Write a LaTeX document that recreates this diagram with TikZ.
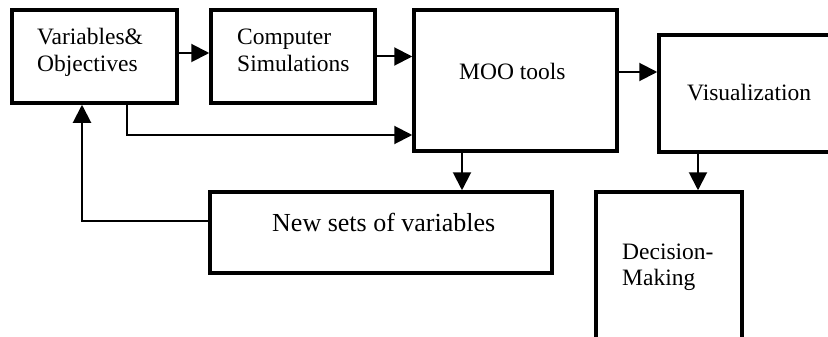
\documentclass[tikz,border=0pt]{standalone}
\usepackage{fontspec}
\setmainfont{Liberation Serif}
\usetikzlibrary{arrows.meta}
\tikzset{
  block/.style={draw=black, line width=3.5pt, fill=white, inner sep=0pt},
  flow/.style={draw=black, line width=2pt, -{Triangle[length=18pt,width=18pt]}},
  lbl/.style={anchor=base west, inner sep=0pt, font=\fontsize{23.5}{27}\selectfont},
  biglbl/.style={anchor=base west, inner sep=0pt, font=\fontsize{26}{30}\selectfont}
}
\begin{document}
\begin{tikzpicture}[x=1pt, y=-1pt]
\useasboundingbox (0,0) rectangle (828,337);
\clip (0,0) rectangle (828,337);

% boxes
\node[block, minimum width=165pt, minimum height=93pt]  (vars) at (94.5,56.5) {};
\node[block, minimum width=164pt, minimum height=93pt]  (sim)  at (293,56.5) {};
\node[block, minimum width=203pt, minimum height=141pt] (moo)  at (515.5,80.5) {};
\node[block, minimum width=220pt, minimum height=117pt] (vis)  at (769,93.5) {};
\node[block, minimum width=342pt, minimum height=81pt]  (news) at (381,232.5) {};
\node[block, minimum width=146pt, minimum height=180pt] (dec)  at (669,282) {};

% labels
\node[lbl] (varsA) at (37,45) {Variables\&};
\node[lbl] (varsB) at (37,72) {Objectives};
\node[lbl] (simA)  at (237,45) {Computer};
\node[lbl] (simB)  at (237,72) {Simulations};
\node[lbl] (mooA)  at (459,80) {MOO tools};
\node[lbl] (visA)  at (687,100) {Visualization};
\node[biglbl] (newsA) at (272,231) {New sets of variables};
\node[lbl] (decA)  at (622,259) {Decision-};
\node[lbl] (decB)  at (622,285) {Making};

% connectors
\draw[flow] ([yshift=3.5pt]vars.east) -- ([yshift=3.5pt]vars.east -| sim.west);
\draw[flow] (sim.east) -- (sim.east -| moo.west);
\draw[flow] ([xshift=32.5pt]vars.south) |- ([yshift=-54.5pt]moo.west);
\draw[flow] ([yshift=8.5pt]moo.east) -- ([yshift=8.5pt]moo.east -| vis.west);
\draw[flow] ([xshift=-53.5pt]moo.south) -- ([xshift=-53.5pt]moo.south |- news.north);
\draw[flow] ([xshift=-71pt]vis.south) -- ([xshift=-71pt]vis.south |- dec.north);
\draw[flow] ([yshift=11.5pt]news.west) -| ([xshift=-12.5pt]vars.south);
\end{tikzpicture}
\end{document}
